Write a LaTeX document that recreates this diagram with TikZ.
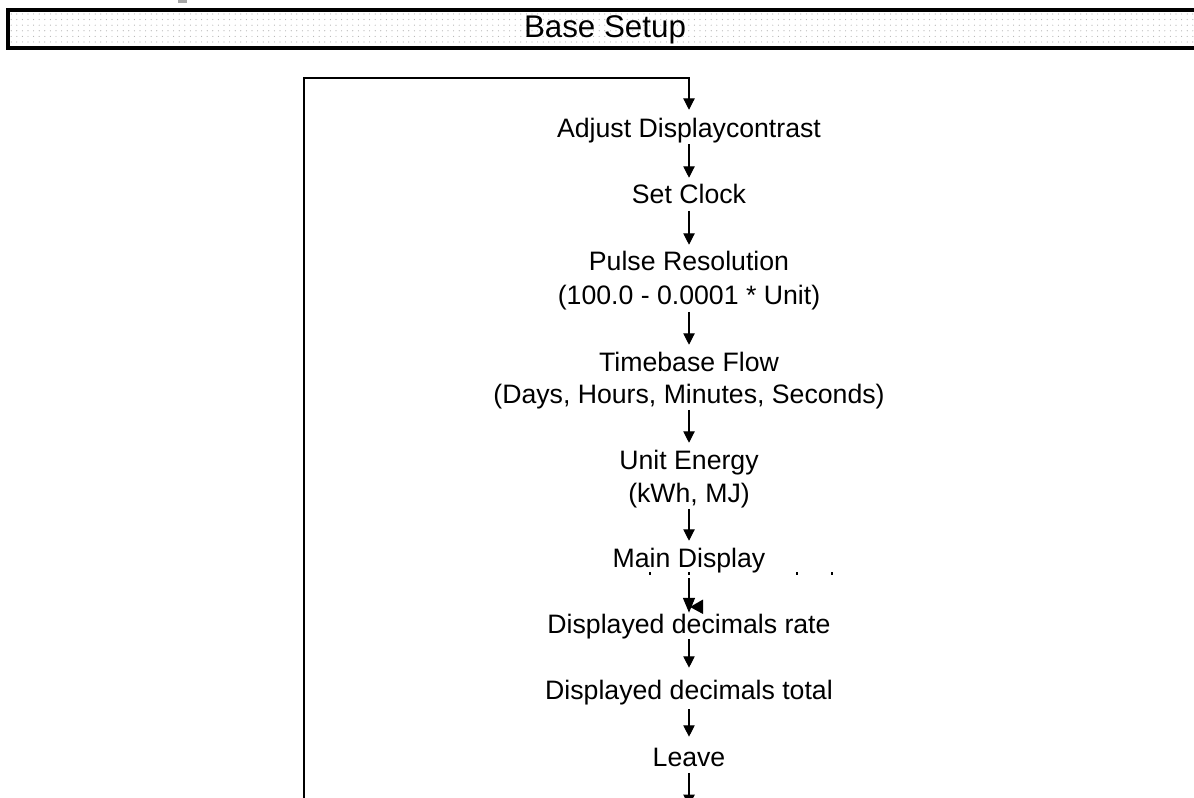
\documentclass[tikz,border=0pt]{standalone}
\usepackage{fontspec}
\setmainfont{Liberation Sans}
\usetikzlibrary{arrows.meta,patterns.meta}

\begin{document}
\begin{tikzpicture}[x=0.75pt,y=-0.75pt,
  every node/.style={font=\fontsize{20}{24}\selectfont},
  stepnode/.style={anchor=base, inner xsep=2pt, inner ysep=0pt, text height=14.3pt, text depth=0pt},
  flow/.style={-{Triangle[length=8.5pt,width=8.5pt]}, line width=0.8pt, shorten <=5pt, shorten >=5.2pt}]
  \useasboundingbox (0,0) rectangle (1194,798);
  % title bar
  \fill[gray!70] (178,0) rectangle (187,3);
  \draw[line width=2.4pt, pattern={Dots[distance=4.2pt,radius=0.45pt]}, pattern color=gray!60] (8,10) rectangle (1215,48);
  \node[anchor=base, font=\fontsize{23.5}{28}\selectfont] (title) at (605,38) {Base Setup};
  % steps
  \node[stepnode] (adj) at (689,137.5) {Adjust Displaycontrast};
  \node[stepnode] (clock) at (689,204) {Set Clock};
  \node[stepnode] (pulse) at (689,271) {Pulse Resolution};
  \node[stepnode] (pulserange) at (689,305) {(100.0 - 0.0001 * Unit)};
  \node[stepnode] (timebase) at (689,371) {Timebase Flow};
  \node[stepnode] (timeunits) at (689,403) {(Days, Hours, Minutes, Seconds)};
  \node[stepnode] (energy) at (689,469) {Unit Energy};
  \node[stepnode] (energyunits) at (689,502) {(kWh, MJ)};
  \node[stepnode] (maindisp) at (689,567) {Main Display};
  \node[stepnode] (decrate) at (689,633) {Displayed decimals rate};
  \node[stepnode] (dectotal) at (689,699) {Displayed decimals total};
  \node[stepnode] (leave) at (689,766) {Leave};
  % stray ticks below Main Display
  \foreach \xd in {650,689,797,832}
    \draw[line width=0.9pt] (\xd,572) -- (\xd,575);
  % loop back
  \coordinate (loopfoot) at (304,800);
  \coordinate (looptop) at (304,78);
  \coordinate (exit) at (689,806);
  \draw[flow, shorten <=0pt, shorten >=6.3pt] (loopfoot) -- (looptop) -| (adj);
  \draw[flow] (adj) -- (clock);
  \draw[flow] (clock) -- (pulse);
  \draw[flow] (pulserange) -- (timebase);
  \draw[flow] (timeunits) -- (energy);
  \draw[flow] (energyunits) -- (maindisp);
  \draw[-{Triangle[length=11pt,width=9pt]}, line width=0.8pt, shorten <=8.3pt, shorten >=0.8pt] (maindisp) -- (decrate);
  \fill (690,607) -- (703,599.5) -- (703,614) -- cycle;
  \draw[flow, shorten <=4.5pt, shorten >=9pt] (decrate) -- (dectotal);
  \draw[flow, shorten <=7.5pt, shorten >=7.5pt] (dectotal) -- (leave);
  \draw[flow, shorten >=0pt] (leave) -- (exit);
\end{tikzpicture}
\end{document}
